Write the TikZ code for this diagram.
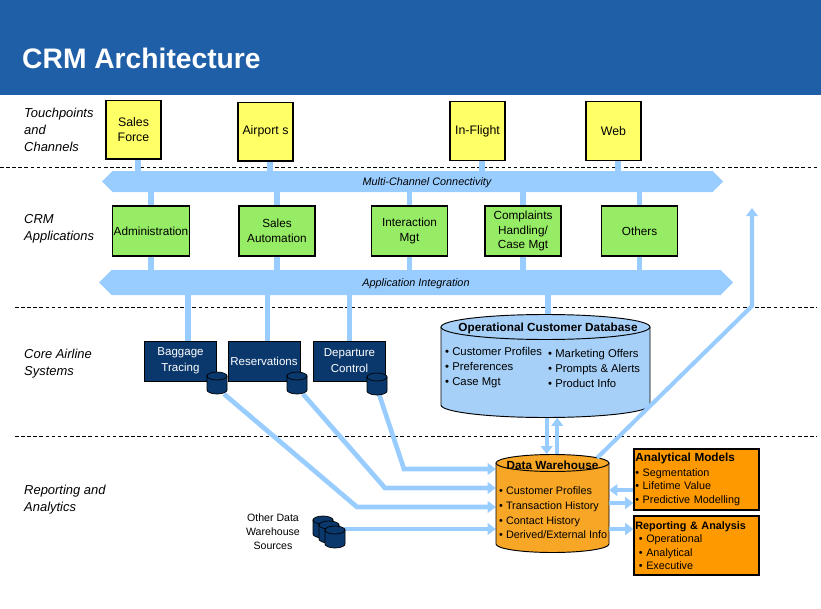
\documentclass[tikz,border=0pt]{standalone}
\usepackage{fontspec}
\setmainfont{Liberation Sans}
\usepackage{tikz}
\usetikzlibrary{positioning}
\usetikzlibrary{shapes.arrows}
\usetikzlibrary{arrows.meta}
\usepackage{xcolor}

\definecolor{bannerblue}{RGB}{31,95,168}
\definecolor{linkblue}{RGB}{153,204,255}
\definecolor{dbblue}{RGB}{166,208,248}
\definecolor{touchyellow}{RGB}{255,255,102}
\definecolor{appgreen}{RGB}{150,236,100}
\definecolor{corenavy}{RGB}{10,56,108}
\definecolor{dwamber}{RGB}{248,166,38}
\definecolor{boxamber}{RGB}{255,153,0}

\tikzset{
  tier/.style={anchor=west,inner sep=0pt,align=left,font=\itshape\fontsize{11}{14.5}\selectfont},
  touch/.style={draw,line width=1pt,fill=touchyellow,minimum width=46.75pt,minimum height=50pt,inner sep=1pt,align=center,font=\fontsize{10.5}{12.5}\selectfont},
  crmapp/.style={draw,line width=1pt,fill=appgreen,minimum width=64.6pt,minimum height=42.5pt,inner sep=1pt,align=center,font=\fontsize{10}{12.3}\selectfont},
  coresys/.style={draw,fill=corenavy,text=white,minimum width=61.5pt,minimum height=34pt,inner sep=1pt,align=center,font=\fontsize{9.8}{13.5}\selectfont},
  bus/.style={double arrow,double arrow head extend=0pt,fill=linkblue,inner sep=0pt},
  buslbl/.style={inner sep=0pt,font=\itshape\fontsize{9.2}{11}\selectfont},
  link/.style={draw=linkblue,line width=5pt},
  feed/.style={draw=linkblue,line width=4pt,-{Triangle[width=10pt,length=7pt]}},
  sep/.style={dash pattern=on 3pt off 2.2pt,line width=0.6pt},
  bullets/.style={anchor=west,inner sep=0pt,align=left},
  amberbox/.style={draw,line width=1pt,fill=boxamber,minimum width=106.25pt,text width=104pt,inner sep=0pt,align=left,font=\fontsize{9.2}{11.5}\selectfont}
}

% small database can: centre x, top y, fill
\newcommand{\dbcan}[3]{%
  \filldraw[fill=#3,line width=0.6pt] (#1-10,#2) -- (#1-10,#2+14)
    arc[start angle=180,end angle=0,x radius=10,y radius=4] -- (#1+10,#2) -- cycle;
  \filldraw[fill=#3,line width=0.6pt] (#1,#2) ellipse[x radius=10,y radius=4];}

\begin{document}
\begin{tikzpicture}[x=0.85pt,y=-0.85pt]
\useasboundingbox (0,0) rectangle (821,609);

% banner
\fill[bannerblue] (0,0) rectangle (821,95);
\node[anchor=base west,inner sep=0pt,text=white,font=\bfseries\fontsize{24}{28}\selectfont] (title) at (22,68) {CRM Architecture};

% tiers
\node[tier] (tpc) at (24,130) {Touchpoints\\and\\Channels};
\node[tier] (crma) at (24,228.5) {CRM\\Applications};
\node[tier] (cas) at (24,364) {Core Airline\\Systems};
\node[tier] (rpa) at (24,500) {Reporting and\\Analytics};
\draw[sep] (0,167) -- (817,167);
\draw[sep] (15,307) -- (817,307);
\draw[sep] (15,436) -- (817,436);

% touchpoints
\node[touch] (sf) at (133.5,129.5) {Sales\\Force};
\node[touch] (apt) at (265.5,131.5) {Airport s};
\node[touch] (infl) at (477.5,131) {In-Flight};
\node[touch] (web) at (613.5,131) {Web};

% buses
\node[bus,minimum height=527.85pt,minimum width=17.85pt] (mcc) at (412.5,181.5) {};
\node[buslbl] (mcclbl) at (427,182.5) {Multi-Channel Connectivity};
\node[bus,minimum height=538.9pt,minimum width=21.25pt] (aib) at (416,282.5) {};
\node[buslbl] (aiblbl) at (416,283.5) {Application Integration};

\foreach \n in {sf,apt,infl,web}
  \draw[link] ([xshift=4pt]\n.south) -- ([xshift=4pt]\n.south |- mcc.north);

% crm applications
\node[crmapp] (adm) at (151,231) {Administration};
\node[crmapp] (sla) at (277,231) {Sales\\Automation};
\node[crmapp] (imt) at (409.5,231) {Interaction\\Mgt};
\node[crmapp] (chm) at (523,231) {Complaints\\Handling/\\Case Mgt};
\node[crmapp] (oth) at (639.5,231) {Others};

\foreach \n in {adm,sla,imt,chm,oth}{
  \draw[link] (\n.north) -- (\n.north |- mcc.south);
  \draw[link] (\n.south) -- (\n.south |- aib.north);
}

% core airline systems
\node[coresys] (bag) at (180.5,361) {Baggage\\Tracing};
\node[coresys] (res) at (264,361) {Reservations};
\node[coresys] (dcs) at (349.5,361) {Departure\\Control};
\draw[link] ([xshift=6pt]bag.north |- aib.south) -- ([xshift=6pt]bag.north);
\draw[link] ([xshift=3pt]res.north |- aib.south) -- ([xshift=3pt]res.north);
\draw[link] (dcs.north |- aib.south) -- (dcs.north);

% operational customer database
\fill[dbblue] (441,327) -- (441,405) arc[start angle=180,end angle=0,x radius=104.5,y radius=12.5] -- (650,327) -- cycle;
\draw[line width=0.8pt] (441,327) -- (441,405) arc[start angle=180,end angle=0,x radius=104.5,y radius=12.5] -- (650,327);
\draw[line width=0.8pt,fill=dbblue] (545.5,327) ellipse[x radius=104.5,y radius=12.5];
\node[minimum width=177.65pt,minimum height=87.55pt,inner sep=0pt] (ocdb) at (545.5,366) {};
\node[inner sep=0pt,font=\bfseries\fontsize{10}{12}\selectfont] (ocdbt) at (548,328) {Operational Customer Database};
\node[bullets,font=\fontsize{9.6}{12.75}\selectfont] (ocdbl) at (445,368) {\textbullet\ Customer Profiles\\\textbullet\ Preferences\\\textbullet\ Case Mgt};
\node[bullets,font=\fontsize{9.6}{12.75}\selectfont] (ocdbr) at (548,368) {\textbullet\ Marketing Offers\\\textbullet\ Prompts \& Alerts\\\textbullet\ Product Info};
\draw[link] ([xshift=2pt]ocdb.north |- aib.south) -- ([xshift=2pt]ocdb.north);

% data warehouse
\coordinate (dcsdb) at (379,394);
\coordinate (resdb) at (303,394);
\coordinate (bagdb) at (224,394);
\coordinate (b1) at (404,469);
\coordinate (b2) at (385,488);
\coordinate (b3) at (357,507);
\coordinate (odsout) at (344,529);
\node[minimum width=96pt,minimum height=83.3pt,inner sep=0pt] (dw) at (552.5,503.5) {};
\draw[feed] (dcsdb) -- (b1) -- (b1 -| dw.west);
\draw[feed] (resdb) -- (b2) -- (b2 -| dw.west);
\draw[feed] (bagdb) -- (b3) -- (b3 -| dw.west);
\draw[feed] (odsout) -- (odsout -| dw.west);

\fill[dwamber] (496,463) -- (496,544) arc[start angle=180,end angle=0,x radius=56.5,y radius=8.5] -- (609,463) -- cycle;
\draw[line width=0.8pt] (496,463) -- (496,544) arc[start angle=180,end angle=0,x radius=56.5,y radius=8.5] -- (609,463);
\draw[line width=0.8pt,fill=dwamber] (552.5,463) ellipse[x radius=56.5,y radius=8.5];
\node[inner sep=0pt,font=\bfseries\fontsize{10}{12}\selectfont] (dwt) at (552.5,465) {Data Warehouse};
\node[bullets,font=\fontsize{9.2}{12.5}\selectfont] (dwl) at (499,513) {\textbullet\ Customer Profiles\\\textbullet\ Transaction History\\\textbullet\ Contact History\\\textbullet\ Derived/External Info};

\draw[feed,line width=3.5pt] ([xshift=1pt]ocdb.south) -- ([xshift=1pt]ocdb.south |- dw.north);
\draw[feed,line width=3.5pt] ([xshift=10pt]ocdb.south |- dw.north) -- ([xshift=10pt]ocdb.south);
\coordinate (dwout) at (597,458);
\coordinate (ubend) at (752,306);
\coordinate (utip) at (752,208);
\draw[feed,line width=3.5pt] (dwout) -- (ubend) -- (utip);

% small cans
\dbcan{217}{376}{corenavy}
\dbcan{297}{376}{corenavy}
\dbcan{377}{377}{corenavy}
\dbcan{323}{520}{corenavy}
\dbcan{329}{525}{corenavy}
\dbcan{335}{530}{corenavy}
\node[align=center,inner sep=0pt,font=\fontsize{9}{12}\selectfont] (ods) at (273,532) {Other Data\\Warehouse\\Sources};

% analytics boxes
\node[amberbox,minimum height=51.85pt] (anm) at (696.5,479.5) {{\bfseries\fontsize{10}{12}\selectfont Analytical Models}\\[1pt]
  \textbullet\ Segmentation\\\textbullet\ Lifetime Value\\\textbullet\ Predictive Modelling};
\node[amberbox,minimum height=50.15pt] (rep) at (696.5,545.5) {{\bfseries Reporting \& Analysis}\\
  \hspace*{3pt}\textbullet\ Operational\\\hspace*{3pt}\textbullet\ Analytical\\\hspace*{3pt}\textbullet\ Executive};
\draw[feed] ([yshift=-9pt]anm.west) -- ([yshift=-9pt]anm.west -| dw.east);
\draw[feed] ([yshift=-20pt]anm.west -| dw.east) -- ([yshift=-20pt]anm.west);
\draw[feed] ([yshift=14pt]rep.west -| dw.east) -- ([yshift=14pt]rep.west);
\end{tikzpicture}
\end{document}
